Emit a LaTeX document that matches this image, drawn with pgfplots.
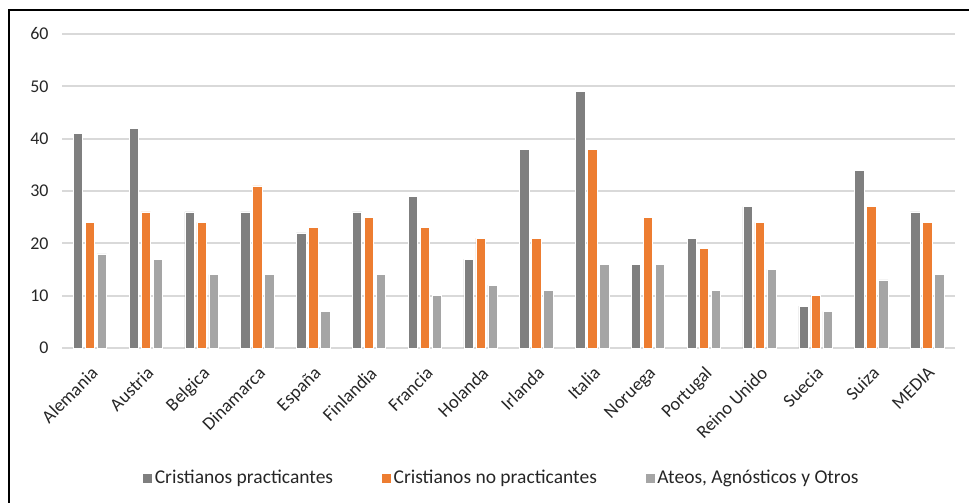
\documentclass[border=0pt]{standalone}
\usepackage{pgfplots}
\pgfplotsset{compat=1.18}
\usepackage{fontspec}
\setmainfont{Carlito}

\definecolor{serA}{HTML}{7F7F7F}
\definecolor{serB}{HTML}{ED7D31}
\definecolor{serC}{HTML}{A5A5A5}
\definecolor{gridc}{HTML}{D9D9D9}

\begin{document}
\begin{tikzpicture}[x=1bp,y=1bp]
\useasboundingbox (0,0) rectangle (969,503);
% outer frame (left and top edges)
\draw[line width=1.6bp, black] (9,-5) -- (9,493) -- (980,493);

\begin{axis}[
  at={(62bp,155bp)}, anchor=south west,
  scale only axis, width=893bp, height=314bp,
  ybar=2.6bp, bar width=9.4bp,
  xmin=-0.5, xmax=15.5, ymin=0, ymax=60,
  ytick={0,10,...,60},
  xtick=data,
  xticklabels={Alemania,Austria,Belgica,Dinamarca,España,Finlandia,Francia,Holanda,Irlanda,Italia,Noruega,Portugal,Reino Unido,Suecia,Suiza,MEDIA},
  xticklabel style={xshift=0bp, yshift=-16bp, rotate=45, anchor=north east, inner sep=1bp,
    font=\fontsize{18.5}{21}\selectfont},
  yticklabel style={xshift=-10bp},
  /pgf/number format/assume math mode=true,
  tick label style={font=\fontsize{18}{20}\selectfont, text=black!85},
  major tick length=0pt,
  axis line style={draw=none},
  axis x line*=bottom,
  ymajorgrids, grid style={gridc, line width=1.8bp},
  legend style={at={(0.492,-0.414)}, anchor=center, draw=none, fill=none,
    legend columns=3, font=\fontsize{19.6}{21}\selectfont, text=black!85,
    /tikz/every even column/.append style={column sep=46bp}},
  legend image code/.code={\fill[#1] (0bp,-5bp) rectangle (10bp,5bp);},
  clip=false,
]
\draw[gridc, line width=2bp] (axis cs:-0.5,0) -- (axis cs:15.5,0);
\addplot[fill=serA, draw=white, line width=0.5bp] coordinates {
 (0,41) (1,42) (2,26) (3,26) (4,22) (5,26) (6,29) (7,17)
 (8,38) (9,49) (10,16) (11,21) (12,27) (13,8) (14,34) (15,26)};
\addplot[fill=serB, draw=white, line width=0.5bp] coordinates {
 (0,24) (1,26) (2,24) (3,31) (4,23) (5,25) (6,23) (7,21)
 (8,21) (9,38) (10,25) (11,19) (12,24) (13,10) (14,27) (15,24)};
\addplot[fill=serC, draw=white, line width=0.5bp] coordinates {
 (0,18) (1,17) (2,14) (3,14) (4,7) (5,14) (6,10) (7,12)
 (8,11) (9,16) (10,16) (11,11) (12,15) (13,7) (14,13) (15,14)};
\legend{Cristianos practicantes, Cristianos no practicantes, {Ateos, Agnósticos y Otros}}
\end{axis}
\end{tikzpicture}
\end{document}
